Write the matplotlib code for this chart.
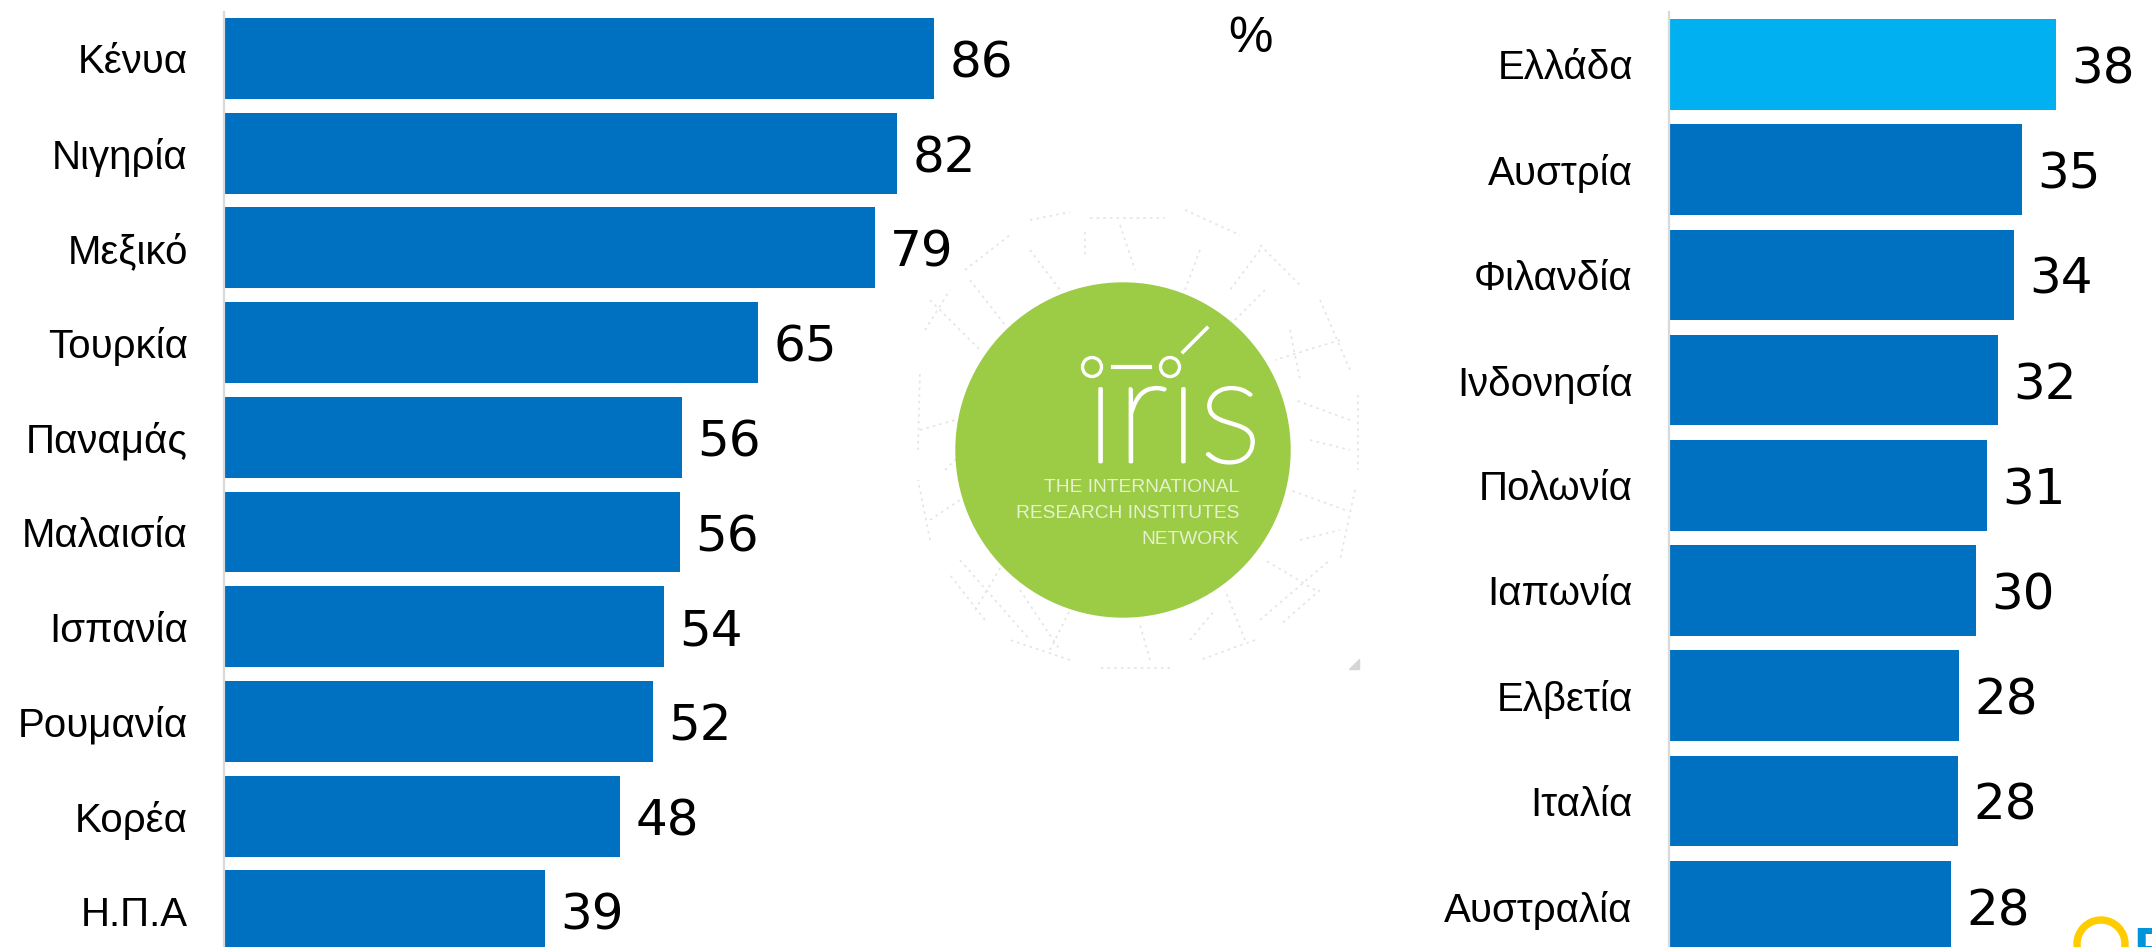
import matplotlib
matplotlib.use('Agg')
import matplotlib.pyplot as plt
import matplotlib.patheffects as pe
from matplotlib.patches import Circle, Polygon, Wedge

# data
left_names = ['Κένυα', 'Νιγηρία', 'Μεξικό', 'Τουρκία', 'Παναμάς',
              'Μαλαισία', 'Ισπανία', 'Ρουμανία', 'Κορέα', 'Η.Π.Α']
left_values = [86.4, 81.9, 79.2, 65.0, 55.7, 55.5, 53.5, 52.2, 48.2, 39.0]
right_names = ['Ελλάδα', 'Αυστρία', 'Φιλανδία', 'Ινδονησία', 'Πολωνία',
               'Ιαπωνία', 'Ελβετία', 'Ιταλία', 'Αυστραλία']
right_values = [37.9, 34.6, 33.8, 32.2, 31.1, 30.1, 28.4, 28.3, 27.6]
highlight = 'Ελλάδα'

# faint network lines behind the logo (pixel positions)
net_lines = [
    [(925, 330), (950, 290)], [(965, 270), (1010, 235)], [(1030, 220), (1070, 212)],
    [(1090, 218), (1165, 218)], [(1185, 210), (1240, 235)], [(1260, 245), (1300, 285)],
    [(1320, 300), (1350, 370)], [(1358, 395), (1358, 470)], [(1355, 490), (1340, 560)],
    [(1320, 590), (1280, 625)], [(1255, 640), (1200, 660)], [(1170, 668), (1100, 668)],
    [(1070, 660), (1010, 640)], [(985, 620), (950, 575)], [(930, 540), (918, 480)],
    [(918, 450), (920, 370)],
    [(970, 280), (1005, 325)], [(1030, 250), (1060, 290)], [(1120, 225), (1135, 270)],
    [(1200, 250), (1185, 290)], [(1265, 290), (1225, 330)], [(1340, 340), (1275, 360)],
    [(1350, 420), (1295, 400)], [(1345, 510), (1290, 490)], [(1315, 590), (1265, 560)],
    [(1245, 640), (1225, 590)], [(1150, 660), (1140, 625)], [(1050, 650), (1070, 610)],
    [(975, 610), (1005, 560)], [(930, 520), (960, 500)], [(920, 430), (955, 420)],
    [(930, 300), (980, 350)], [(960, 560), (1030, 640)], [(1260, 620), (1330, 560)],
    [(1085, 232), (1085, 258)], [(1290, 330), (1300, 380)], [(1310, 440), (1350, 450)],
    [(1300, 540), (1340, 530)], [(1190, 640), (1215, 610)], [(1020, 590), (1060, 650)],
    [(945, 470), (965, 450)], [(1260, 250), (1230, 290)],
]

plt.rcParams['font.family'] = ['Liberation Sans', 'DejaVu Sans']

W, H = 2152, 947
fig = plt.figure(figsize=(W / 100, H / 100), dpi=100)


def draw_panel(rect, names, values, xmax, ymin, ymax, bar_h):
    ax = fig.add_axes(rect)
    colors = ['#00B0F0' if n == highlight else '#0070C0' for n in names]
    bars = ax.barh(range(len(names)), values, height=bar_h, color=colors)
    ax.set_xlim(0, xmax)
    ax.set_ylim(ymax, ymin)
    ax.set_yticks(range(len(names)))
    ax.set_yticklabels(names, fontsize=29)
    ax.set_xticks([])
    ax.tick_params(axis='y', length=0, pad=26)
    for s in ['top', 'right', 'bottom']:
        ax.spines[s].set_visible(False)
    ax.spines['left'].set_color('#D9D9D9')
    ax.spines['left'].set_linewidth(1.6)
    for b, v in zip(bars, values):
        ax.annotate(f'{round(v)}', (v, b.get_y() + b.get_height() / 2), xytext=(11, 0),
                    textcoords='offset points', va='center_baseline', ha='left',
                    fontsize=36, family='DejaVu Sans', color='black', annotation_clip=False)
    return ax


draw_panel([224 / W, 0, 822 / W, 935 / H], left_names, left_values, 100, -0.491, 9.382, 0.855)
draw_panel([1669 / W, 0, 480 / W, 935 / H], right_names, right_values, 47, -0.499, 8.389, 0.861)

# overlay in pixel positions: logo and small items
ov = fig.add_axes([0, 0, 1, 1], zorder=5)
ov.set_xlim(0, W)
ov.set_ylim(H, 0)
ov.axis('off')
ov.patch.set_alpha(0)

ov.text(1250, 39, '%', fontsize=36, ha='center', va='center', color='black')

for seg in net_lines:
    xs, ys = zip(*seg)
    ov.plot(xs, ys, color='#E4E4E4', lw=1.2, ls=(0, (1.5, 2.5)), zorder=1)
ov.add_patch(Polygon([(1349, 669), (1359, 669), (1359, 659)], color='#D6D6D6', zorder=1))

ov.add_patch(Circle((1123, 450), 167, color='#9CCB46', zorder=2))
ov.text(1085, 462, 'ırıs', fontsize=108, family=['Lato', 'DejaVu Sans'], fontweight='light',
        color='white', ha='left', va='baseline', zorder=3,
        path_effects=[pe.withStroke(linewidth=2.0, foreground='white')])
ov.add_patch(Circle((1092, 367), 9.5, fc='none', ec='white', lw=2.4, zorder=3))
ov.add_patch(Circle((1170, 367), 9.5, fc='none', ec='white', lw=2.4, zorder=3))
ov.plot([1113, 1150], [367, 367], color='white', lw=3, zorder=3)
ov.plot([1183, 1207], [352, 328], color='white', lw=2.6, zorder=3)
for y, line in zip([487, 513, 539], ['THE INTERNATIONAL', 'RESEARCH INSTITUTES', 'NETWORK']):
    ov.text(1239, y, line, fontsize=13.8, color='#E6F2CF', ha='right', va='center', zorder=3)

# cut off logo at the bottom right corner
ov.add_patch(Wedge((2101, 944), 27, 0, 360, width=6, color='#FFCC00', zorder=3))
ov.text(2133, 926, 'F', fontsize=40, fontweight='bold', color='#0095DA', ha='left', va='top', zorder=3)

fig.savefig('out.png', dpi=100, facecolor='white')
